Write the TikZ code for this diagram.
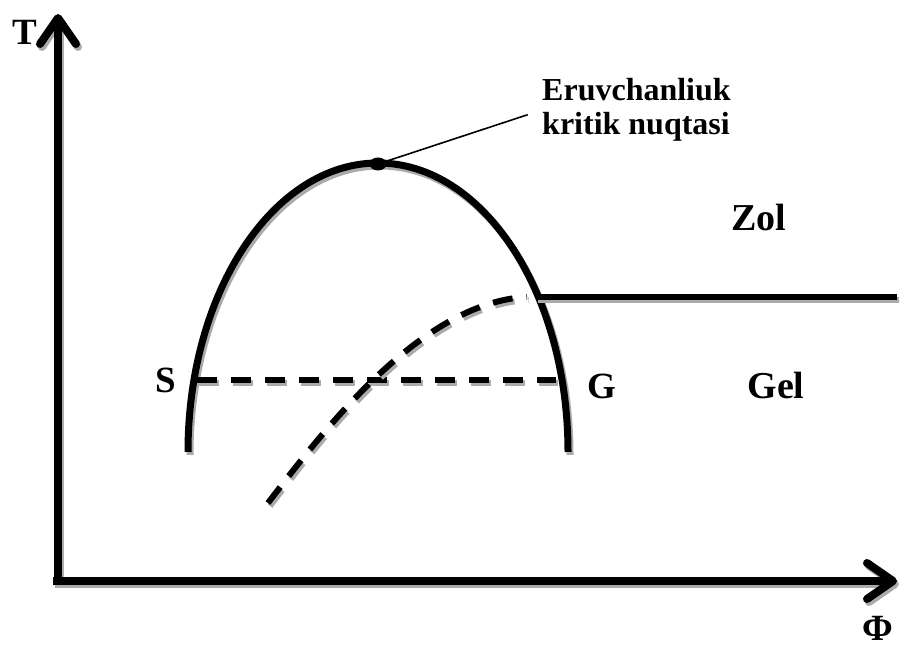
\documentclass[tikz,border=0pt]{standalone}
\usepackage{fontspec}
\setmainfont{Liberation Serif}
\usetikzlibrary{shapes.geometric, arrows.meta, positioning, calc}

\begin{document}
\begin{tikzpicture}[
  x=1pt, y=1pt,
  shade/.style    = {preaction={draw=black!33, line width=#1, transform canvas={shift={(2pt,-3pt)}}}},
  shadedash/.style = {preaction={draw=black!33, line width=6pt, dash pattern=on 20pt off 14pt,
                     transform canvas={shift={(2pt,-3pt)}}}},
  barb/.tip       = {Straight Barb[length=26pt, width=36pt, line cap=round, line join=round]},
  axis/.style     = {line width=8pt, -barb, preaction={draw=black!33, line width=8pt, -barb,
                     transform canvas={shift={(2pt,-3pt)}}}},
  dome/.style     = {line width=7pt, shade=7pt},
  edge/.style     = {line width=6pt, shade=6pt},
  dashline/.style = {line width=6pt, dash pattern=on 20pt off 14pt, shadedash},
  lbl/.style      = {font=\bfseries\fontsize{37}{39}\selectfont, inner sep=0pt},
  big/.style      = {font=\bfseries\fontsize{38}{40}\selectfont, inner sep=0pt},
]
  \useasboundingbox (0,0) rectangle (901,647);

  % axes
  \draw[axis] (58,62) -- (58,633);
  \draw[axis] (53,66) -- (897,66);
  \node[lbl] (tlab) at (25,615) {T};
  \node[lbl] (philab) at (878,19) {Φ};

  % binodal curve
  \draw[dome] (188,195) arc[start angle=180, end angle=0, x radius=190, y radius=289];
  \node[ellipse, fill=black, minimum width=17pt, minimum height=13pt, inner sep=0pt] (crit) at (378,483) {};

  % gel line
  \draw[edge] (536,350) -- (897,350);
  \draw[dashline] (197,267) -- (556,267);
  \draw[dashline] (268,144) .. controls (320,212) and (420,345) .. (527,350);

  % labels
  \node[lbl] (slab) at (166,267) {S};
  \node[lbl] (glab) at (602,261) {G};
  \node[big] (zol) at (759,429) {Zol};
  \node[big] (gel) at (776,261) {Gel};
  \node[anchor=west, align=left, inner sep=0pt,
        font=\bfseries\fontsize{32}{34}\selectfont] (krit) at (542,537)
        {Eruvchanliuk\\kritik nuqtasi};
  \draw[line width=1.6pt, shorten >=15pt] (crit) -- (krit.west);
\end{tikzpicture}
\end{document}
